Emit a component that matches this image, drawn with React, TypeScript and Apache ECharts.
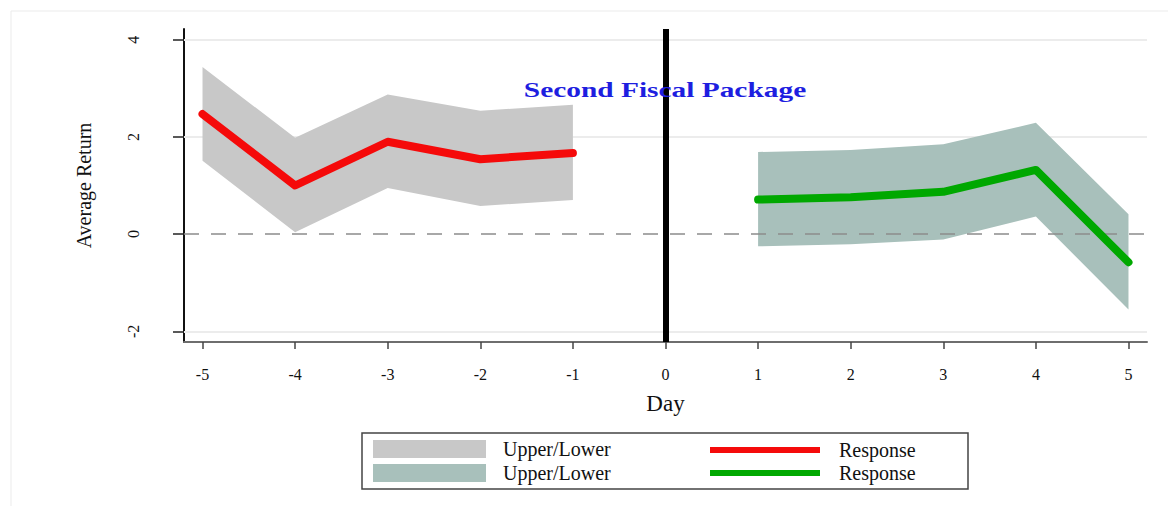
import React, { useEffect, useRef } from 'react';
import * as echarts from 'echarts';

const days = [-5, -4, -3, -2, -1, 0, 1, 2, 3, 4, 5];
const yTicks = [-2, 0, 2, 4];
const gridValues = [-2, 2, 4];

const preDays = [-5, -4, -3, -2, -1];
const preResponse = [2.47, 1.0, 1.9, 1.54, 1.67];
const preUpper = [3.44, 1.98, 2.87, 2.54, 2.66];
const preLower = [1.51, 0.04, 0.95, 0.58, 0.7];

const postDays = [1, 2, 3, 4, 5];
const postResponse = [0.71, 0.76, 0.87, 1.32, -0.58];
const postUpper = [1.69, 1.73, 1.85, 2.29, 0.41];
const postLower = [-0.25, -0.21, -0.11, 0.36, -1.55];

const eventDay = 0;
const eventLabel = 'Second Fiscal Package';

const SERIF = '"Liberation Serif", "Times New Roman", serif';

function bandSeries(name: string, xs: number[], up: number[], lo: number[], color: string, markLine: any) {
  return {
    type: 'custom',
    name,
    z: 2,
    itemStyle: { color },
    data: [[xs[0], up[0]]],
    renderItem: (_params: any, api: any) => {
      const top = xs.map((x, i) => api.coord([x, up[i]]));
      const bottom = xs.map((x, i) => api.coord([x, lo[i]])).reverse();
      return { type: 'polygon', shape: { points: top.concat(bottom) }, style: { fill: color } };
    },
    markLine,
  };
}

export default function App() {
  const ref = useRef<HTMLDivElement>(null);
  useEffect(() => {
    document.body.style.margin = '0';
    const chart = echarts.init(ref.current!, null, { renderer: 'svg' });
    const option: any = {
      animation: false,
      backgroundColor: '#ffffff',
      grid: { left: 184, right: 21, top: 29, bottom: 164 },
      xAxis: {
        type: 'value',
        min: -5.2,
        max: 5.2,
        name: 'Day',
        nameLocation: 'middle',
        nameGap: 50,
        nameTextStyle: { fontFamily: SERIF, fontSize: 23, color: '#111' },
        axisLine: { show: true, onZero: false, lineStyle: { color: '#6e6e6e', width: 2 } },
        axisTick: { show: true, length: 7, customValues: days, lineStyle: { color: '#444', width: 1.5 } },
        axisLabel: { customValues: days, margin: 24, fontFamily: SERIF, fontSize: 16, color: '#111' },
        splitLine: { show: false },
      },
      yAxis: {
        type: 'value',
        min: -2.22,
        max: 4.22,
        name: 'Average Return',
        nameLocation: 'middle',
        nameGap: 90,
        nameRotate: 90,
        nameTextStyle: { fontFamily: SERIF, fontSize: 20, color: '#111' },
        axisLine: { show: true, onZero: false, lineStyle: { color: '#111', width: 2 } },
        axisTick: { show: true, length: 11, customValues: yTicks, lineStyle: { color: '#222', width: 1.5 } },
        axisLabel: { customValues: yTicks, rotate: 90, margin: 43, fontFamily: SERIF, fontSize: 16, color: '#111' },
        splitLine: { show: false },
      },
      legend: [
        {
          orient: 'vertical',
          left: 373,
          top: 439,
          padding: 0,
          itemWidth: 113,
          itemHeight: 18,
          itemGap: 4,
          icon: 'rect',
          data: ['Upper/Lower#1', 'Upper/Lower#2'],
          formatter: (n: string) => n.split('#')[0],
          textStyle: { fontFamily: SERIF, fontSize: 20, color: '#111', padding: [0, 0, 0, 12] },
        },
        {
          orient: 'vertical',
          left: 710,
          top: 440,
          padding: 0,
          itemWidth: 110,
          itemHeight: 6,
          itemGap: 3,
          icon: 'rect',
          data: ['Response#1', 'Response#2'],
          formatter: (n: string) => n.split('#')[0],
          textStyle: { fontFamily: SERIF, fontSize: 20, color: '#111', padding: [0, 0, 0, 14] },
        },
      ],
      graphic: [
        {
          type: 'rect',
          z: -1,
          silent: true,
          shape: { x: 11, y: 11, width: 1175, height: 510 },
          style: { fill: 'none', stroke: '#ebebeb', lineWidth: 1 },
        },
        {
          type: 'rect',
          z: 10,
          silent: true,
          shape: { x: 362, y: 433, width: 606, height: 56 },
          style: { fill: 'none', stroke: '#444', lineWidth: 1.5 },
        },
        {
          type: 'text',
          z: 10,
          x: 665,
          y: 90,
          scaleX: 1.4,
          style: {
            text: eventLabel,
            fill: '#1e1ee0',
            font: `bold 21px ${SERIF}`,
            textAlign: 'center',
            textVerticalAlign: 'middle',
          },
        },
      ],
      series: [
        bandSeries('Upper/Lower#1', preDays, preUpper, preLower, '#c8c8c8', {
          silent: true,
          symbol: 'none',
          z: 3,
          label: { show: false },
          lineStyle: { color: '#8c8c8c', type: [15, 12], width: 1.5 },
          data: [{ yAxis: 0 }],
        }),
        bandSeries('Upper/Lower#2', postDays, postUpper, postLower, '#a8c0bb', {
          silent: true,
          symbol: 'none',
          z: 6,
          label: { show: false },
          lineStyle: { color: '#000', type: 'solid', width: 6 },
          data: [{ xAxis: eventDay }],
        }),
        {
          type: 'line',
          name: 'Response#1',
          z: 4,
          symbol: 'none',
          color: '#f50a0a',
          lineStyle: { color: '#f50a0a', width: 8, cap: 'round', join: 'round' },
          data: preDays.map((d, i) => [d, preResponse[i]]),
          markLine: {
            silent: true,
            symbol: 'none',
            z: 1,
            label: { show: false },
            lineStyle: { color: '#ececec', type: 'solid', width: 2 },
            data: gridValues.map((v) => ({ yAxis: v })),
          },
        },
        {
          type: 'line',
          name: 'Response#2',
          z: 4,
          symbol: 'none',
          color: '#00a800',
          lineStyle: { color: '#00a800', width: 8, cap: 'round', join: 'round' },
          data: postDays.map((d, i) => [d, postResponse[i]]),
        },
      ],
    };
    chart.setOption(option);
    return () => chart.dispose();
  }, []);
  return <div ref={ref} style={{ width: 1168, height: 506 }} />;
}
